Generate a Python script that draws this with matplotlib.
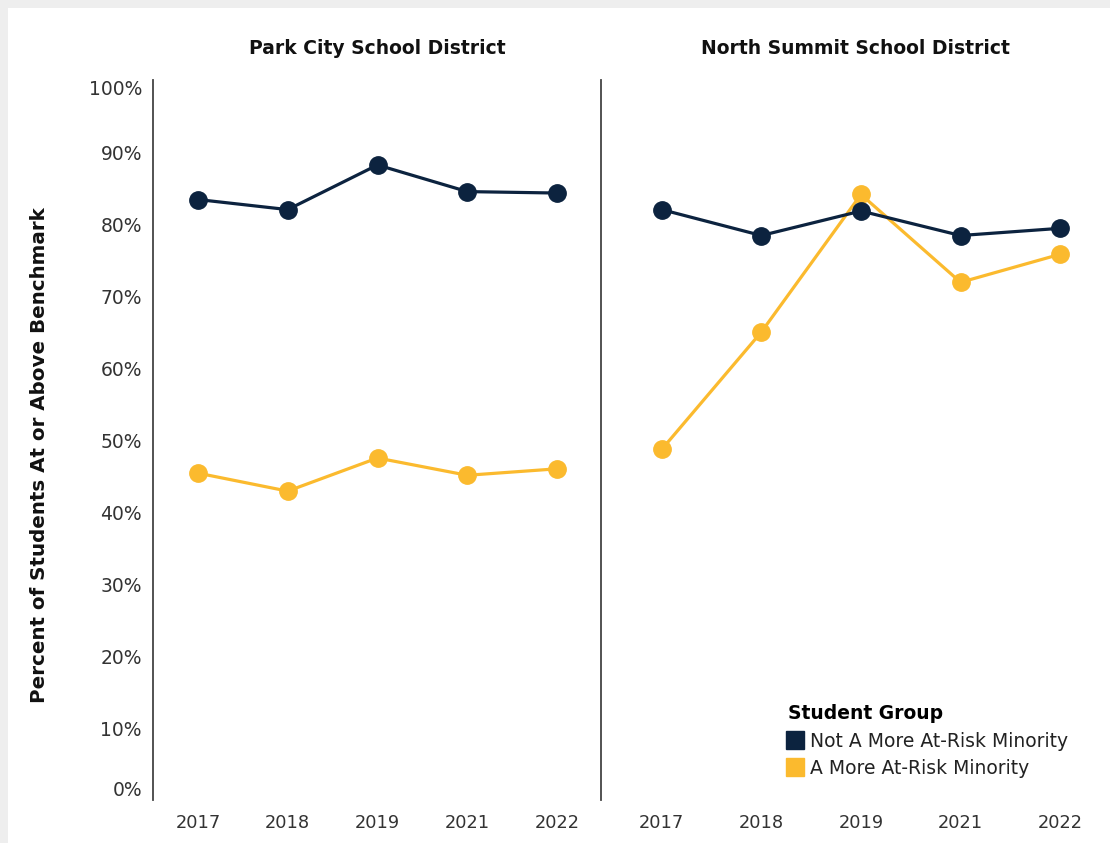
import matplotlib.pyplot as plt
from matplotlib.lines import Line2D
from matplotlib.patches import Rectangle

years = ['2017', '2018', '2019', '2021', '2022']
districts = ['Park City School District', 'North Summit School District']
groups = ['Not A More At-Risk Minority', 'A More At-Risk Minority']

# percent at or above benchmark
park_not = [83.4, 82.0, 88.2, 84.5, 84.3]
park_risk = [45.4, 42.9, 47.5, 45.1, 46.0]
north_not = [82.0, 78.4, 81.8, 78.4, 79.4]
north_risk = [48.7, 65.0, 84.1, 71.9, 75.8]

navy = '#0c233f'
gold = '#fbba2e'
txt = '#333333'

fig = plt.figure(figsize=(11.1, 8.43), dpi=100, facecolor='#eeeeee')
fig.patches.append(Rectangle((8 / 1110, 0), 1, 1 - 8 / 843, transform=fig.transFigure,
                             facecolor='white', edgecolor='none', zorder=-5))

W, H = 1110, 843
bot = 1 - 800 / H
hgt = (800 - 80) / H
ax1 = fig.add_axes([153 / W, bot, (602 - 153) / W, hgt])
ax2 = fig.add_axes([601 / W, bot, (1110 - 601) / W, hgt])

x = list(range(len(years)))
for ax, title, a, b in [(ax1, districts[0], park_not, park_risk),
                        (ax2, districts[1], north_not, north_risk)]:
    ax.set_facecolor('none')
    ax.plot(x, b, color=gold, lw=2.3, marker='o', ms=12.5, zorder=3)
    ax.plot(x, a, color=navy, lw=2.3, marker='o', ms=12.5, zorder=4)
    ax.set_ylim(0, 100)
    ax.set_xticks(x)
    ax.set_xticklabels(years, fontsize=12.8, color=txt)
    ax.tick_params(axis='x', length=0, pad=10)
    for s in ['top', 'right', 'bottom']:
        ax.spines[s].set_visible(False)
    ax.spines['left'].set_color('#444444')
    ax.spines['left'].set_linewidth(1.3)
    ax.set_title(title, fontsize=13.5, fontweight='bold', color='#111111', pad=19)

ax1.set_xlim(-0.5, 4.5)
ax2.set_xlim(-0.61, 4.5)

ticks = list(range(0, 101, 10))
ax1.set_yticks(ticks)
ax1.set_yticklabels([f'{t}%' for t in ticks], fontsize=13.5, color=txt)
ax1.tick_params(axis='y', length=0, pad=8)
labs = ax1.get_yticklabels()
labs[0].set_va('bottom')
labs[-1].set_va('top')
ax1.set_ylabel('Percent of Students At or Above Benchmark', fontsize=14.3,
               fontweight='bold', color='#111111')
ax1.yaxis.set_label_coords(-0.232, 0.479)

ax2.set_yticks([])

handles = [Line2D([], [], ls='none', marker='s', ms=13, color=navy),
           Line2D([], [], ls='none', marker='s', ms=13, color=gold)]
leg = ax2.legend(handles, groups, title='Student Group', loc='lower left',
                 bbox_to_anchor=(0.345, 0.015), frameon=False, fontsize=13.5,
                 title_fontproperties={'weight': 'bold', 'size': 13.5},
                 handlelength=0.8, handletextpad=0.4, labelspacing=0.45,
                 borderaxespad=0.2, alignment='left')
for t in leg.get_texts():
    t.set_color('#222222')

fig.savefig('out.png', dpi=100, facecolor=fig.get_facecolor())
